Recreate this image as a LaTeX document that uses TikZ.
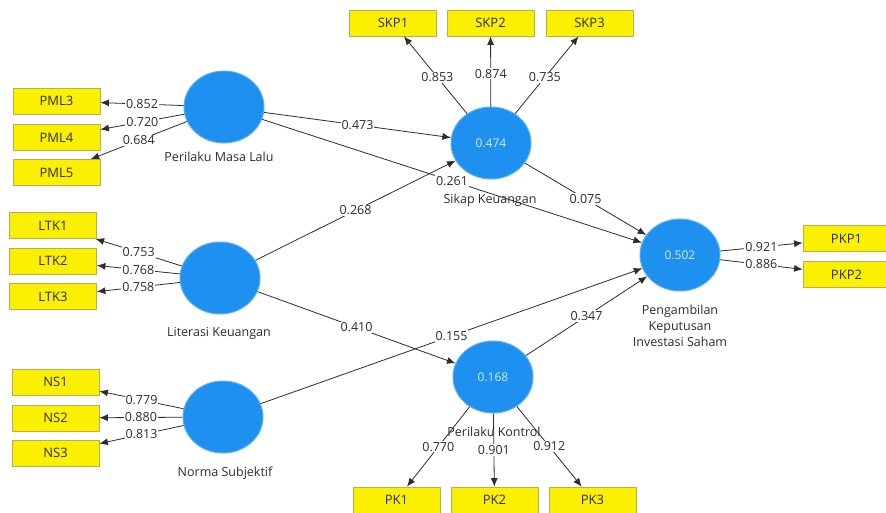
\documentclass[tikz,border=0pt]{standalone}
\usepackage{fontspec}
\setmainfont{Open Sans}
\usetikzlibrary{shapes.geometric,arrows.meta}
\definecolor{lvblue}{RGB}{30,144,240}
\definecolor{lvrim}{RGB}{90,175,245}
\definecolor{indyel}{RGB}{250,240,0}
\definecolor{indborder}{RGB}{185,175,80}
\definecolor{lvtext}{RGB}{205,238,255}
\definecolor{linecol}{RGB}{45,45,45}
\definecolor{txtcol}{RGB}{45,45,45}
\begin{document}
\begin{tikzpicture}[x=1pt,y=-1pt,
 latent/.style={ellipse, fill=lvblue, draw=lvrim, line width=1pt, minimum width=80pt, minimum height=72pt, inner sep=0pt, text=lvtext, font=\fontsize{12}{14}\selectfont},
 indicator/.style={rectangle, fill=indyel, draw=indborder, line width=0.8pt, minimum width=87pt, minimum height=26pt, inner sep=0pt, font=\fontsize{13}{15}\selectfont, text=txtcol},
 lvlabel/.style={font=\fontsize{12.5}{16}\selectfont, text=txtcol, align=center},
 link/.style={draw=linecol, line width=0.8pt, -{Latex[length=8.5pt,width=7pt]}},
 coef/.style={fill=white, inner sep=1pt, font=\fontsize{12.5}{14}\selectfont, text=txtcol}
]
\useasboundingbox (0,0) rectangle (886,512);
\fill[white] (0,0) rectangle (886,512);

% latent variables
\node[latent] (pml) at (224,107) {};
\node[latent] (ltk) at (220,278) {};
\node[latent] (ns)  at (223,417) {};
\node[latent] (sk)  at (491,143) {0.474};
\node[latent] (pis) at (680,255) {0.502};
\node[latent] (pk)  at (493,377) {0.168};

% indicators
\node[indicator] (pml3) at (56.5,101) {PML3};
\node[indicator] (pml4) at (56.5,137.5) {PML4};
\node[indicator] (pml5) at (56.5,172.5) {PML5};
\node[indicator] (ltk1) at (53,225.5) {LTK1};
\node[indicator] (ltk2) at (53,261) {LTK2};
\node[indicator] (ltk3) at (53,296.5) {LTK3};
\node[indicator] (ns1) at (55.5,382) {NS1};
\node[indicator] (ns2) at (55.5,418) {NS2};
\node[indicator] (ns3) at (55.5,453) {NS3};
\node[indicator] (skp1) at (393,23) {SKP1};
\node[indicator] (skp2) at (490.5,23) {SKP2};
\node[indicator] (skp3) at (589.5,23) {SKP3};
\node[indicator] (pkp1) at (846.5,238.5) {PKP1};
\node[indicator] (pkp2) at (846.5,274.5) {PKP2};
\node[indicator] (pk1) at (396.5,500) {PK1};
\node[indicator] (pk2) at (494.5,500) {PK2};
\node[indicator] (pk3) at (592.5,500) {PK3};

% outer model
\draw[link] (pml) -- node[coef]{0.852} (pml3);
\draw[link] (pml) -- node[coef]{0.720} (pml4);
\draw[link] (pml) -- node[coef]{0.684} (pml5);
\draw[link] (ltk) -- node[coef]{0.753} (ltk1);
\draw[link] (ltk) -- node[coef]{0.768} (ltk2);
\draw[link] (ltk) -- node[coef]{0.758} (ltk3);
\draw[link] (ns) -- node[coef]{0.779} (ns1);
\draw[link] (ns) -- node[coef]{0.880} (ns2);
\draw[link] (ns) -- node[coef]{0.813} (ns3);
\draw[link] (sk) -- node[coef,pos=0.47]{0.853} (skp1);
\draw[link] (sk) -- node[coef,pos=0.47]{0.874} (skp2);
\draw[link] (sk) -- node[coef,pos=0.47]{0.735} (skp3);
\draw[link] (pis) -- node[coef]{0.921} (pkp1);
\draw[link] (pis) -- node[coef]{0.886} (pkp2);
\draw[link] (pk) -- node[coef]{0.770} (pk1);
\draw[link] (pk) -- node[coef]{0.901} (pk2);
\draw[link] (pk) -- node[coef]{0.912} (pk3);

% inner model
\draw[link] (pml) -- node[coef]{0.473} (sk);
\draw[link] (pml) -- node[coef]{0.261} (pis);
\draw[link] (ltk) -- node[coef]{0.268} (sk);
\draw[link] (ltk) -- node[coef]{0.410} (pk);
\draw[link] (ns) -- node[coef]{0.155} (pis);
\draw[link] (sk) -- node[coef]{0.075} (pis);
\draw[link] (pk) -- node[coef]{0.347} (pis);

% latent labels
\node[lvlabel] (pmlL) at (219,157) {Perilaku Masa Lalu};
\node[lvlabel] (ltkL) at (219,333) {Literasi Keuangan};
\node[lvlabel] (nsL) at (225,473) {Norma Subjektif};
\node[lvlabel] (skL) at (490,200) {Sikap Keuangan};
\node[lvlabel] (pkL) at (494,432) {Perilaku Kontrol};
\node[lvlabel] (pisL) at (680,326) {Pengambilan\\Keputusan\\Investasi Saham};
\end{tikzpicture}
\end{document}
